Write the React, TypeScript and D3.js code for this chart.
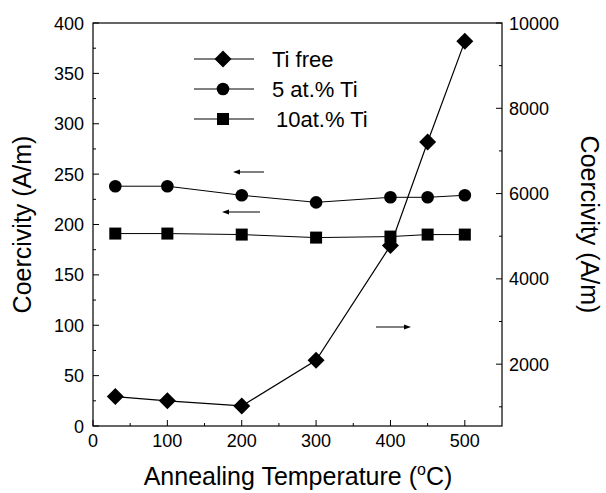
import React from "react";
import * as d3 from "d3";

const temps = [30, 100, 200, 300, 400, 450, 500];
const tiFree = [1240, 1140, 1020, 2090, 4780, 7210, 9570]; // right axis
const ti5 = [238, 238, 229, 222, 227, 227, 229]; // left axis
const ti10 = [191, 191, 190, 187, 188, 190, 190]; // left axis

const xTicks = [0, 100, 200, 300, 400, 500];
const xMinor = [50, 150, 250, 350, 450];
const yLeftTicks = [0, 50, 100, 150, 200, 250, 300, 350, 400];
const yLeftMinor = [25, 75, 125, 175, 225, 275, 325, 375];
const yRightTicks = [2000, 4000, 6000, 8000, 10000];
const yRightMinor = [1000, 3000, 5000, 7000, 9000];

const legendLabels = ["Ti free", "5 at.% Ti", "10at.% Ti"];

const W = 606, H = 493;
const L = 93, R = 502, T = 23, B = 426;
const FONT = "Liberation Sans, Arial, sans-serif";

export default function App() {
  const x = d3.scaleLinear().domain([0, 550]).range([L, R]);
  const yL = d3.scaleLinear().domain([0, 400]).range([B, T]);
  const yR = d3.scaleLinear().domain([550, 10000]).range([B, T]);

  const lineL = d3.line<number>().x((_, i) => x(temps[i])).y((d) => yL(d));
  const lineR = d3.line<number>().x((_, i) => x(temps[i])).y((d) => yR(d));

  const diamond = (cx: number, cy: number, k: string | number) => (
    <path key={k} d={`M${cx},${cy - 8.5}L${cx + 8.5},${cy}L${cx},${cy + 8.5}L${cx - 8.5},${cy}Z`} fill="#000" />
  );
  const circle = (cx: number, cy: number, k: string | number) => (
    <circle key={k} cx={cx} cy={cy} r={6.3} fill="#000" />
  );
  const square = (cx: number, cy: number, k: string | number) => (
    <rect key={k} x={cx - 6} y={cy - 6} width={12} height={12} fill="#000" />
  );

  const legendY = [59, 89, 119];
  const markers = [diamond, circle, square];

  const arrow = (x1: number, x2: number, y: number, k: string) => {
    const dir = x2 > x1 ? 1 : -1;
    return (
      <g key={k}>
        <line x1={x1} y1={y} x2={x2 - dir * 5} y2={y} stroke="#000" strokeWidth={1} />
        <path d={`M${x2},${y}L${x2 - dir * 7},${y - 2.5}L${x2 - dir * 7},${y + 2.5}Z`} fill="#000" />
      </g>
    );
  };

  return (
    <svg width={W} height={H} style={{ position: "absolute", left: 0, top: 0, background: "#fff" }} fontFamily={FONT}>
      <rect x={0} y={0} width={W} height={H} fill="#fff" />
      {/* frame */}
      <rect x={L} y={T} width={R - L} height={B - T} fill="none" stroke="#000" strokeWidth={1.2} />

      {/* x ticks */}
      {xTicks.map((t) => (
        <g key={"xt" + t}>
          <line x1={x(t)} x2={x(t)} y1={B} y2={B - 6} stroke="#000" />
          <text x={x(t)} y={B + 21} fontSize={18} textAnchor="middle">{t}</text>
        </g>
      ))}
      {xMinor.map((t) => (
        <line key={"xm" + t} x1={x(t)} x2={x(t)} y1={B} y2={B - 3} stroke="#000" />
      ))}

      {/* left y ticks */}
      {yLeftTicks.map((t) => (
        <g key={"yl" + t}>
          <line x1={L} x2={L + 6} y1={yL(t)} y2={yL(t)} stroke="#000" />
          <text x={L - 9} y={yL(t) + 6.5} fontSize={18} textAnchor="end">{t}</text>
        </g>
      ))}
      {yLeftMinor.map((t) => (
        <line key={"ylm" + t} x1={L} x2={L + 3} y1={yL(t)} y2={yL(t)} stroke="#000" />
      ))}

      {/* right y ticks */}
      {yRightTicks.map((t) => (
        <g key={"yr" + t}>
          <line x1={R} x2={R - 6} y1={yR(t)} y2={yR(t)} stroke="#000" />
          <text x={R + 7} y={yR(t) + 6.5} fontSize={18} textAnchor="start">{t}</text>
        </g>
      ))}
      {yRightMinor.map((t) => (
        <line key={"yrm" + t} x1={R} x2={R - 3} y1={yR(t)} y2={yR(t)} stroke="#000" />
      ))}

      {/* axis titles */}
      <text x={298} y={485} fontSize={25} textAnchor="middle">
        Annealing Temperature (
        <tspan dy={-10} fontSize={16}>o</tspan>
        <tspan dy={10}>C)</tspan>
      </text>
      <text transform={`translate(31,${(T + B) / 2}) rotate(-90)`} fontSize={25} textAnchor="middle">
        Coercivity (A/m)
      </text>
      <text transform={`translate(581,${(T + B) / 2}) rotate(90)`} fontSize={25} textAnchor="middle">
        Coercivity (A/m)
      </text>

      {/* series lines */}
      <path d={lineL(ti5) || ""} fill="none" stroke="#000" strokeWidth={1} />
      <path d={lineL(ti10) || ""} fill="none" stroke="#000" strokeWidth={1} />
      <path d={lineR(tiFree) || ""} fill="none" stroke="#000" strokeWidth={1.2} />

      {ti5.map((v, i) => circle(x(temps[i]), yL(v), "c" + i))}
      {ti10.map((v, i) => square(x(temps[i]), yL(v), "s" + i))}
      {tiFree.map((v, i) => diamond(x(temps[i]), yR(v), "d" + i))}

      {/* arrows */}
      {arrow(264, 233, 172, "a1")}
      {arrow(260, 222, 212, "a2")}
      {arrow(376, 411, 327, "a3")}

      {/* legend */}
      {legendLabels.map((lab, i) => (
        <g key={"lg" + i}>
          <line x1={194} x2={254} y1={legendY[i]} y2={legendY[i]} stroke="#000" strokeWidth={1} />
          {markers[i](223, legendY[i], "lm" + i)}
          <text x={i === 2 ? 276 : 272} y={legendY[i] + 8} fontSize={22}>{lab}</text>
        </g>
      ))}
    </svg>
  );
}
